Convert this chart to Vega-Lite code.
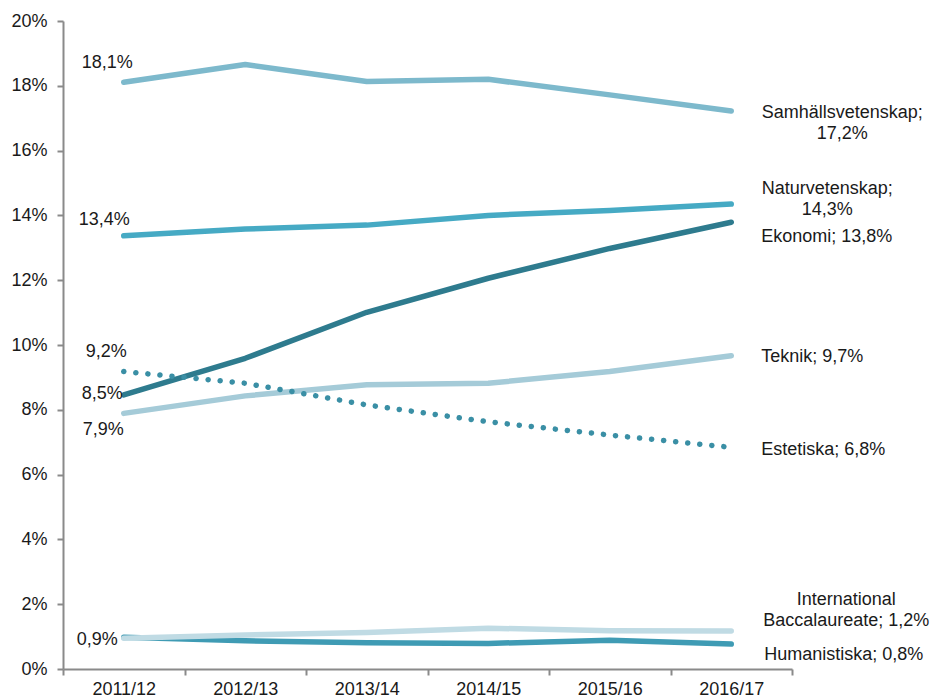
{
  "$schema": "https://vega.github.io/schema/vega-lite/v6.json",
  "autosize": {"type": "none"},
  "width": 729,
  "height": 648,
  "padding": {"left": 63, "top": 21, "right": 144, "bottom": 30},
  "background": "white",
  "config": {
    "view": {"stroke": null},
    "font": "Liberation Sans",
    "text": {"font": "Liberation Sans", "fontSize": 18, "color": "#1a1a1a"}
  },
  "data": {
    "values": [
      {"year": "2011/12", "series": "Samhällsvetenskap", "value": 18.11, "label": "18,1%"},
      {"year": "2012/13", "series": "Samhällsvetenskap", "value": 18.66},
      {"year": "2013/14", "series": "Samhällsvetenskap", "value": 18.13},
      {"year": "2014/15", "series": "Samhällsvetenskap", "value": 18.2},
      {"year": "2015/16", "series": "Samhällsvetenskap", "value": 17.72},
      {"year": "2016/17", "series": "Samhällsvetenskap", "value": 17.22, "label": "Samhällsvetenskap;\n17,2%"},
      {"year": "2011/12", "series": "Naturvetenskap", "value": 13.37, "label": "13,4%"},
      {"year": "2012/13", "series": "Naturvetenskap", "value": 13.58},
      {"year": "2013/14", "series": "Naturvetenskap", "value": 13.7},
      {"year": "2014/15", "series": "Naturvetenskap", "value": 14.0},
      {"year": "2015/16", "series": "Naturvetenskap", "value": 14.15},
      {"year": "2016/17", "series": "Naturvetenskap", "value": 14.35, "label": "Naturvetenskap;\n14,3%"},
      {"year": "2011/12", "series": "Ekonomi", "value": 8.46, "label": "8,5%"},
      {"year": "2012/13", "series": "Ekonomi", "value": 9.59},
      {"year": "2013/14", "series": "Ekonomi", "value": 11.01},
      {"year": "2014/15", "series": "Ekonomi", "value": 12.06},
      {"year": "2015/16", "series": "Ekonomi", "value": 12.98},
      {"year": "2016/17", "series": "Ekonomi", "value": 13.79, "label": "Ekonomi; 13,8%"},
      {"year": "2011/12", "series": "Teknik", "value": 7.89, "label": "7,9%"},
      {"year": "2012/13", "series": "Teknik", "value": 8.43},
      {"year": "2013/14", "series": "Teknik", "value": 8.77},
      {"year": "2014/15", "series": "Teknik", "value": 8.82},
      {"year": "2015/16", "series": "Teknik", "value": 9.18},
      {"year": "2016/17", "series": "Teknik", "value": 9.67, "label": "Teknik; 9,7%"},
      {"year": "2011/12", "series": "Humanistiska", "value": 0.98},
      {"year": "2012/13", "series": "Humanistiska", "value": 0.87},
      {"year": "2013/14", "series": "Humanistiska", "value": 0.81},
      {"year": "2014/15", "series": "Humanistiska", "value": 0.79},
      {"year": "2015/16", "series": "Humanistiska", "value": 0.89},
      {"year": "2016/17", "series": "Humanistiska", "value": 0.77, "label": "Humanistiska; 0,8%"},
      {"year": "2011/12", "series": "International Baccalaureate", "value": 0.95, "label": "0,9%"},
      {"year": "2012/13", "series": "International Baccalaureate", "value": 1.05},
      {"year": "2013/14", "series": "International Baccalaureate", "value": 1.13},
      {"year": "2014/15", "series": "International Baccalaureate", "value": 1.26},
      {"year": "2015/16", "series": "International Baccalaureate", "value": 1.18},
      {"year": "2016/17", "series": "International Baccalaureate", "value": 1.17, "label": "International\nBaccalaureate; 1,2%"},
      {"year": "2011/12", "series": "Estetiska", "value": 9.18, "label": "9,2%"},
      {"year": "2012/13", "series": "Estetiska", "value": 8.82},
      {"year": "2013/14", "series": "Estetiska", "value": 8.15},
      {"year": "2014/15", "series": "Estetiska", "value": 7.63},
      {"year": "2015/16", "series": "Estetiska", "value": 7.22},
      {"year": "2016/17", "series": "Estetiska", "value": 6.84, "label": "Estetiska; 6,8%"}
    ]
  },
  "encoding": {
    "x": {
      "field": "year", "type": "ordinal",
      "scale": {"type": "band", "paddingInner": 0, "paddingOuter": 0},
      "axis": {
        "title": null, "labelAngle": 0, "tickBand": "extent",
        "domainColor": "#8a8a8a", "domainWidth": 2, "tickColor": "#8a8a8a", "tickWidth": 2,
        "tickSize": 6, "labelPadding": 5, "labelFontSize": 18, "labelColor": "#1a1a1a",
        "labelFont": "Liberation Sans"
      }
    },
    "y": {
      "field": "value", "type": "quantitative",
      "scale": {"domain": [0, 20], "nice": false},
      "axis": {
        "title": null, "values": [0, 2, 4, 6, 8, 10, 12, 14, 16, 18, 20],
        "labelExpr": "datum.value + '%'", "grid": false,
        "domainColor": "#8a8a8a", "domainWidth": 2, "tickColor": "#8a8a8a", "tickWidth": 2,
        "tickSize": 6, "labelPadding": 10, "labelFontSize": 18, "labelColor": "#1a1a1a",
        "labelFont": "Liberation Sans"
      }
    }
  },
  "layer": [
    {
      "transform": [{"filter": "datum.series != 'Estetiska'"}],
      "mark": {"type": "line", "strokeWidth": 5.5, "strokeCap": "round", "strokeJoin": "round"},
      "encoding": {
        "color": {
          "field": "series", "type": "nominal", "legend": null,
          "scale": {
            "domain": ["Samhällsvetenskap", "Naturvetenskap", "Ekonomi", "Teknik", "Humanistiska", "International Baccalaureate", "Estetiska"],
            "range": ["#7db9cc", "#46aac4", "#2e7b8e", "#a5cbd8", "#3f9bb4", "#c0dbe4", "#3a8fa5"]
          }
        }
      }
    },
    {
      "transform": [{"filter": "datum.series == 'Estetiska'"}],
      "mark": {"type": "line", "strokeWidth": 5.5, "strokeCap": "round", "strokeDash": [0.1, 12], "color": "#3a8fa5"},
      "encoding": {}
    },
    {
      "transform": [{"filter": "datum.year == '2011/12' && datum.series == 'Samhällsvetenskap'"}],
      "mark": {"type": "text", "align": "right", "baseline": "middle", "dx": 9, "dy": -19},
      "encoding": {"text": {"field": "label"}}
    },
    {
      "transform": [{"filter": "datum.year == '2011/12' && datum.series == 'Naturvetenskap'"}],
      "mark": {"type": "text", "align": "right", "baseline": "middle", "dx": 6, "dy": -16},
      "encoding": {"text": {"field": "label"}}
    },
    {
      "transform": [{"filter": "datum.year == '2011/12' && datum.series == 'Estetiska'"}],
      "mark": {"type": "text", "align": "right", "baseline": "middle", "dx": 3, "dy": -20},
      "encoding": {"text": {"field": "label"}}
    },
    {
      "transform": [{"filter": "datum.year == '2011/12' && datum.series == 'Ekonomi'"}],
      "mark": {"type": "text", "align": "right", "baseline": "middle", "dx": -1, "dy": -1},
      "encoding": {"text": {"field": "label"}}
    },
    {
      "transform": [{"filter": "datum.year == '2011/12' && datum.series == 'Teknik'"}],
      "mark": {"type": "text", "align": "right", "baseline": "middle", "dx": 0, "dy": 17},
      "encoding": {"text": {"field": "label"}}
    },
    {
      "transform": [{"filter": "datum.year == '2011/12' && datum.series == 'International Baccalaureate'"}],
      "mark": {"type": "text", "align": "right", "baseline": "middle", "dx": -6, "dy": 2},
      "encoding": {"text": {"field": "label"}}
    },
    {
      "transform": [{"filter": "datum.year == '2016/17' && datum.series == 'Samhällsvetenskap'"}],
      "mark": {"type": "text", "align": "center", "baseline": "middle", "lineBreak": "\n", "lineHeight": 21, "dx": 111, "dy": 2},
      "encoding": {"text": {"field": "label"}}
    },
    {
      "transform": [{"filter": "datum.year == '2016/17' && datum.series == 'Naturvetenskap'"}],
      "mark": {"type": "text", "align": "center", "baseline": "middle", "lineBreak": "\n", "lineHeight": 21, "dx": 96, "dy": -15},
      "encoding": {"text": {"field": "label"}}
    },
    {
      "transform": [{"filter": "datum.year == '2016/17' && datum.series == 'International Baccalaureate'"}],
      "mark": {"type": "text", "align": "center", "baseline": "middle", "lineBreak": "\n", "lineHeight": 21, "dx": 115, "dy": -31},
      "encoding": {"text": {"field": "label"}}
    },
    {
      "transform": [{"filter": "datum.year == '2016/17' && datum.series == 'Ekonomi'"}],
      "mark": {"type": "text", "align": "left", "baseline": "middle", "dx": 30, "dy": 15},
      "encoding": {"text": {"field": "label"}}
    },
    {
      "transform": [{"filter": "datum.year == '2016/17' && datum.series == 'Teknik'"}],
      "mark": {"type": "text", "align": "left", "baseline": "middle", "dx": 30, "dy": 1},
      "encoding": {"text": {"field": "label"}}
    },
    {
      "transform": [{"filter": "datum.year == '2016/17' && datum.series == 'Estetiska'"}],
      "mark": {"type": "text", "align": "left", "baseline": "middle", "dx": 30, "dy": 3},
      "encoding": {"text": {"field": "label"}}
    },
    {
      "transform": [{"filter": "datum.year == '2016/17' && datum.series == 'Humanistiska'"}],
      "mark": {"type": "text", "align": "left", "baseline": "middle", "dx": 33, "dy": 11},
      "encoding": {"text": {"field": "label"}}
    }
  ]
}
